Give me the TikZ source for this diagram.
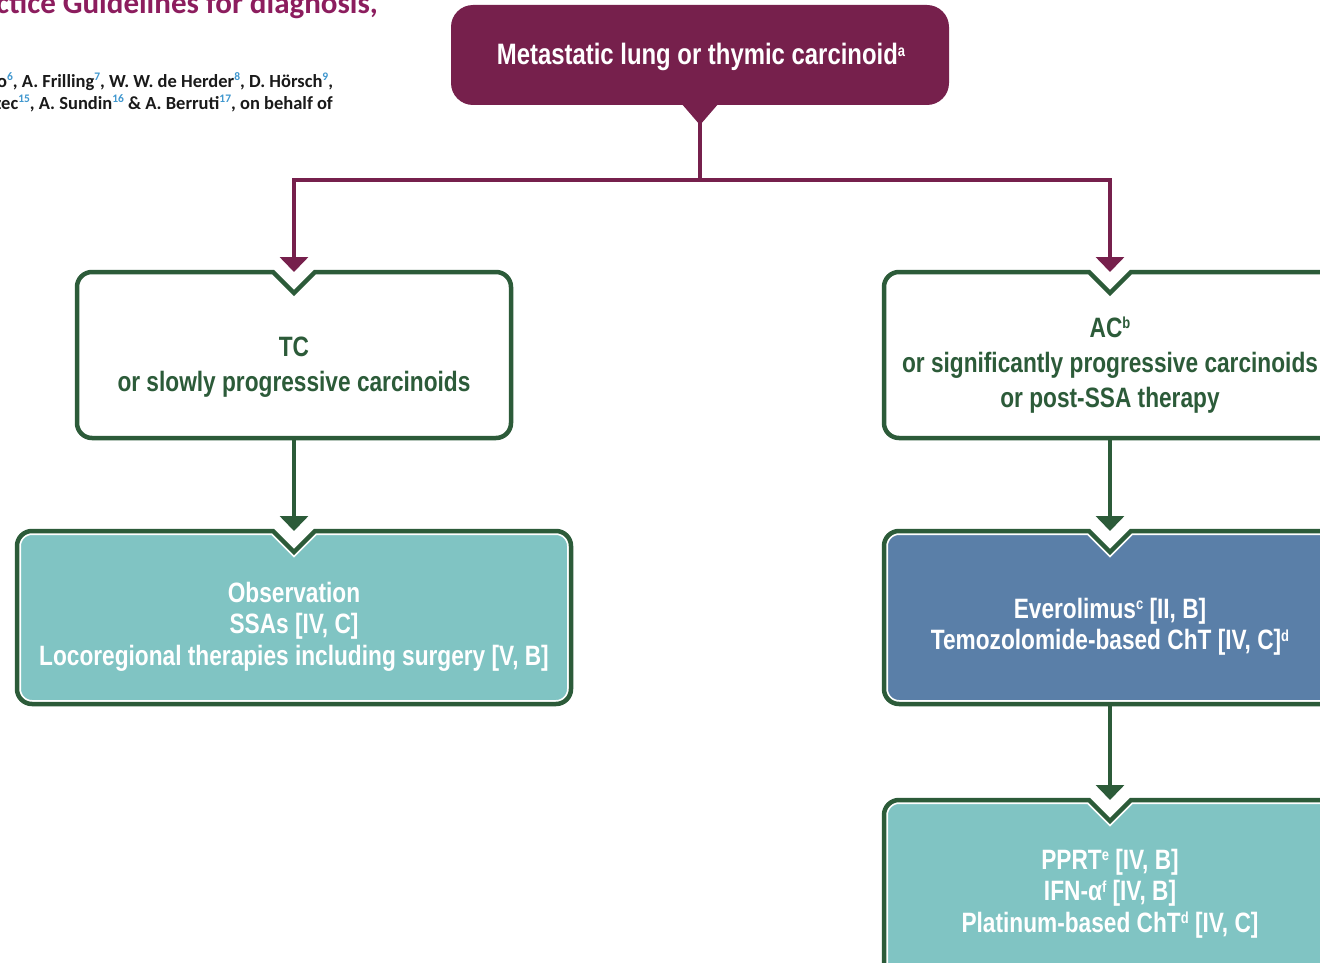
\documentclass[tikz,border=0pt]{standalone}
\usepackage{fontspec}
\usetikzlibrary{arrows.meta}
\newfontfamily\cnd{Liberation Sans}[FakeStretch=0.81]
\newfontfamily\carl{Carlito}
\definecolor{maroon}{HTML}{76204C}
\definecolor{dgreen}{HTML}{2C5B39}
\definecolor{tealbx}{HTML}{80C4C3}
\definecolor{bluebx}{HTML}{5A7FA8}
\definecolor{titlec}{HTML}{8C1D5E}
\definecolor{supblue}{HTML}{3F97CF}
\definecolor{authc}{HTML}{1A1A1A}
\newcommand\bxp[5]{({#5},{-(#2)-21}) -- ({#5+21},{-(#2)}) -- ({#3-15},{-(#2)}) arc[start angle=90,end angle=0,radius=15pt] -- ({#3},{-(#4)+15}) arc[start angle=0,end angle=-90,radius=15pt] -- ({#1+15},{-(#4)}) arc[start angle=270,end angle=180,radius=15pt] -- ({#1},{-(#2)-15}) arc[start angle=180,end angle=90,radius=15pt] -- ({#5-21},{-(#2)}) -- cycle}
\newcommand\plainbx[5]{\draw[dgreen, line width=4.5pt, line join=miter, fill=white] \bxp{#1}{#2}{#3}{#4}{#5};}
\newcommand\filledbx[6]{%
  \fill[#6] \bxp{#1}{#2}{#3}{#4}{#5};
  \begin{scope}
    \clip \bxp{#1}{#2}{#3}{#4}{#5};
    \draw[white, line width=8pt, line join=miter] \bxp{#1}{#2}{#3}{#4}{#5};
  \end{scope}
  \draw[dgreen, line width=4.5pt, line join=miter] \bxp{#1}{#2}{#3}{#4}{#5};}
\newcommand\ml[1]{\begin{tabular}[t]{@{}c@{}}#1\end{tabular}}
\newcommand\supr[1]{\raisebox{8.5pt}{\fontsize{16}{16}\selectfont #1}}
\newcommand\hs[1]{\textcolor{supblue}{\raisebox{7.5pt}{\fontsize{11.5}{11.5}\selectfont #1}}}
\tikzset{
  mline/.style={draw=maroon, line width=3.5pt},
  gline/.style={draw=dgreen, line width=3.5pt},
  arr/.style={-{Triangle[width=28pt,length=15pt]}},
  hold/.style 2 args={inner sep=0pt, outer sep=0pt, minimum width=#1pt, minimum height=#2pt},
  tx/.style={anchor=base, inner sep=0pt, font=\cnd\bfseries\fontsize{28}{35}\selectfont},
  tx2/.style={anchor=base, inner sep=0pt, font=\cnd\bfseries\fontsize{28}{31.6}\selectfont},
  hdr/.style={anchor=base west, inner sep=0pt, text=authc, font=\carl\bfseries\fontsize{18.5}{21}\selectfont}
}
\begin{document}
\begin{tikzpicture}[x=1pt, y=1pt]
\useasboundingbox (0,0) rectangle (1320,-963);
\clip (0,0) rectangle (1320,-963);
\fill[white] (0,0) rectangle (1320,-963);

% header remnants
\node[anchor=base west, inner sep=0pt, text=titlec, font=\carl\bfseries\fontsize{31}{34}\selectfont] (title) at (-4,-14) {ctice Guidelines for diagnosis,};
\node[hdr] (auth1) at (-3,-88) {o\hs{6}, A. Frilling\hs{7}, W. W. de Herder\hs{8}, D. H\"orsch\hs{9},};
\node[hdr] (auth2) at (-6,-110) {zec\hs{15}, A. Sundin\hs{16} \& A. Berruti\hs{17}, on behalf of};

% box placeholders
\node[hold={498}{100}] (top) at (700,-55) {};
\node[hold={434}{166}] (tc) at (294,-355) {};
\node[hold={452}{166}] (ac) at (1110,-355) {};
\node[hold={554}{173}] (obs) at (294,-617.5) {};
\node[hold={452}{173}] (ever) at (1110,-617.5) {};
\node[hold={452}{190}] (pprt) at (1110,-895) {};

% shapes
\fill[maroon, rounded corners=22pt] (451,-5) rectangle (949,-105);
\fill[maroon] (681,-103) -- (719,-103) -- (700,-125) -- cycle;
\plainbx{77}{272}{511}{438}{294}
\plainbx{884}{272}{1336}{438}{1110}
\filledbx{17}{531}{571}{704}{294}{tealbx}
\filledbx{884}{531}{1336}{704}{1110}{bluebx}
\filledbx{884}{800}{1336}{990}{1110}{tealbx}

% connectors
\path (top.south) ++(0,-75) coordinate (split);
\draw[mline] (top.south) -- (split);
\draw[mline, arr] (split) -| (tc.north);
\draw[mline, arr] (split) -| (ac.north);
\draw[gline, arr] (tc.south) -- (obs.north);
\draw[gline, arr] (ac.south) -- (ever.north);
\draw[gline, arr] (ever.south) -- (pprt.north);

% texts
\node[tx, text=white, font=\cnd\bfseries\fontsize{29.5}{35}\selectfont] (toptext) at (701,-65) {Metastatic lung or thymic carcinoid\supr{a}};
\node[tx, text=dgreen] (tctext) at (294,-356) {\ml{TC\\or slowly progressive carcinoids}};
\node[tx, text=dgreen] (actext) at (1110,-337) {\ml{AC\supr{b}\\or significantly progressive carcinoids\\or post-SSA therapy}};
\node[tx2, text=white] (obstext) at (294,-602) {\ml{Observation\\SSAs [IV, C]\\Locoregional therapies including surgery [V, B]}};
\node[tx2, text=white] (evtext) at (1110,-618) {\ml{Everolimus\supr{c} [II, B]\\Temozolomide-based ChT [IV, C]\supr{d}}};
\node[tx2, text=white] (pptext) at (1110,-869) {\ml{PPRT\supr{e} [IV, B]\\IFN-α\supr{f} [IV, B]\\Platinum-based ChT\supr{d} [IV, C]}};
\end{tikzpicture}
\end{document}
